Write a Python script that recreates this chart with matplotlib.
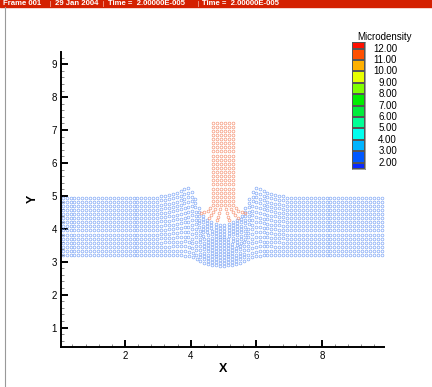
import numpy as np
import matplotlib.pyplot as plt
from matplotlib.patches import Rectangle
from matplotlib.lines import Line2D
from matplotlib.colors import ListedColormap, BoundaryNorm
from matplotlib.transforms import blended_transform_factory
from matplotlib.ticker import MultipleLocator

plt.rcParams['font.family'] = ['Liberation Sans', 'DejaVu Sans']

# target block: undeformed lattice
target_cols = [0.10, 0.22, 0.34, 0.46, 0.58, 0.70, 0.82, 0.94, 1.06, 1.18,
               1.30, 1.42, 1.54, 1.66, 1.78, 1.90, 2.02, 2.14, 2.26, 2.38,
               2.50, 2.62, 2.74, 2.86, 2.98, 3.10, 3.22, 3.34, 3.46, 3.58,
               3.70, 3.82, 3.94, 4.06, 4.18, 4.30, 4.42, 4.54, 4.66, 4.78,
               4.90, 5.02, 5.14, 5.26, 5.38, 5.50, 5.62, 5.74, 5.86, 5.98,
               6.10, 6.22, 6.34, 6.46, 6.58, 6.70, 6.82, 6.94, 7.06, 7.18,
               7.30, 7.42, 7.54, 7.66, 7.78, 7.90, 8.02, 8.14, 8.26, 8.38,
               8.50, 8.62, 8.74, 8.86, 8.98, 9.10, 9.22, 9.34, 9.46, 9.58,
               9.70, 9.82]
target_rows = [3.20, 3.325, 3.45, 3.575, 3.70, 3.825, 3.95, 4.075, 4.20,
               4.325, 4.45, 4.575, 4.70, 4.825, 4.95]

# deformed columns around the impact: top particle (x, y) and bottom particle y
zone_cols = [3.10, 3.22, 3.34, 3.46, 3.58, 3.70, 3.82, 3.94, 4.06, 4.18,
             4.30, 4.42, 4.54, 4.66, 4.78, 4.90, 5.02, 5.14, 5.26, 5.38,
             5.50, 5.62, 5.74, 5.86, 5.98, 6.10, 6.22, 6.34, 6.46, 6.58,
             6.70, 6.82]
zone_top_x = [3.10, 3.22, 3.34, 3.46, 3.58, 3.70, 3.81, 3.92, 4.03, 4.14,
              4.25, 4.37, 4.50, 4.63, 4.76, 4.89, 5.03, 5.16, 5.29, 5.42,
              5.55, 5.67, 5.78, 5.89, 6.00, 6.11, 6.22, 6.34, 6.46, 6.58,
              6.70, 6.82]
zone_top_y = [4.99, 5.01, 5.03, 5.06, 5.10, 5.15, 5.21, 5.25, 5.12, 4.92,
              4.62, 4.40, 4.28, 4.20, 4.15, 4.12, 4.12, 4.15, 4.20, 4.28,
              4.40, 4.62, 4.92, 5.12, 5.25, 5.21, 5.15, 5.10, 5.06, 5.03,
              5.01, 4.99]
zone_bot_y = [3.20, 3.20, 3.20, 3.20, 3.20, 3.19, 3.18, 3.16, 3.13, 3.08,
              3.02, 2.97, 2.93, 2.90, 2.89, 2.88, 2.88, 2.89, 2.90, 2.93,
              2.97, 3.02, 3.08, 3.13, 3.16, 3.18, 3.19, 3.20, 3.20, 3.20,
              3.20, 3.20]

# projectile column
proj_cols = [4.67, 4.80, 4.92, 5.05, 5.18, 5.30]
proj_rows = [7.22, 7.10, 6.97, 6.85, 6.72, 6.60, 6.47, 6.35, 6.22, 6.10,
             5.97, 5.85, 5.72, 5.60, 5.47, 5.35, 5.22, 5.10, 4.97, 4.85, 4.72]
splay_x = [[4.60, 4.52, 4.42, 4.32],
           [4.75, 4.69, 4.62, 4.55],
           [4.90, 4.87, 4.84, 4.81],
           [5.07, 5.10, 5.13, 5.16],
           [5.23, 5.29, 5.36, 5.43],
           [5.37, 5.45, 5.55, 5.65]]
splay_y = [[4.62, 4.55, 4.50, 4.47],
           [4.60, 4.50, 4.41, 4.34],
           [4.60, 4.48, 4.37, 4.27],
           [4.60, 4.48, 4.37, 4.27],
           [4.60, 4.50, 4.41, 4.34],
           [4.62, 4.55, 4.50, 4.47]]

# legend levels
levels = [2.00, 3.00, 4.00, 5.00, 6.00, 7.00, 8.00, 9.00, 10.00, 11.00, 12.00]
level_colors = ['#0a28ff', '#0058ff', '#00b4ff', '#00ffee', '#00ff96',
                '#00ee3c', '#00ee00', '#80ff00', '#e8ff00', '#ffb000',
                '#ff5000', '#ff1000']

# title bar pieces
header = ['Frame 001', '29 Jan 2004', 'Time =  2.00000E-005', 'Time =  2.00000E-005']
header_x = [3, 55, 108, 202]
header_sep = [50, 103, 198]

# build particle positions
tx, ty = [], []
rows = np.array(target_rows)
frac = (rows - rows[0]) / (rows[-1] - rows[0])
for c in target_cols:
    if c in zone_cols:
        j = zone_cols.index(c)
        xs = c + (zone_top_x[j] - c) * frac
        ys = zone_bot_y[j] + (zone_top_y[j] - zone_bot_y[j]) * frac
    else:
        xs = np.full(len(rows), c)
        ys = rows
    tx.extend(xs)
    ty.extend(ys)

px, py = [], []
for j, c in enumerate(proj_cols):
    px.extend([c] * len(proj_rows))
    py.extend(proj_rows)
    px.extend(splay_x[j])
    py.extend(splay_y[j])

W, H = 432, 387
fig = plt.figure(figsize=(W / 100, H / 100), dpi=100)

# title bar
fig.patches.append(Rectangle((0, 1 - 6.5 / H), 1, 6.5 / H, transform=fig.transFigure,
                             color='#d42000', zorder=0))
for s, x0 in zip(header, header_x):
    fig.text(x0 / W, 1 - 3.3 / H, s, color='white', fontsize=5.6,
             fontweight='bold', va='center', ha='left')
for x0 in header_sep:
    fig.lines.append(Line2D([x0 / W, x0 / W], [1 - 6 / H, 1 - 0.5 / H],
                            transform=fig.transFigure, color='#f0a090', lw=0.6))
fig.lines.append(Line2D([5.3 / W, 5.3 / W], [1 / H, 1 - 6.5 / H],
                        transform=fig.transFigure, color='#999999', lw=0.8))

ax = fig.add_axes([61 / W, 1 - 347 / H, 323.3 / W, 295.3 / H])
ax.plot(tx, ty, 'o', ms=2.0, mfc='none', mec='#79a2f5', mew=0.45)
ax.plot(px, py, 'o', ms=2.0, mfc='none', mec='#f59070', mew=0.45)

ax.set_xlim(0.05, 9.9)
ax.set_ylim(0.41, 9.38)
for s in ['top', 'right']:
    ax.spines[s].set_visible(False)
for s in ['left', 'bottom']:
    ax.spines[s].set_linewidth(1.4)
ax.set_xticks([2, 4, 6, 8])
ax.set_yticks([1, 2, 3, 4, 5, 6, 7, 8, 9])
ax.xaxis.set_minor_locator(MultipleLocator(0.4))
ax.yaxis.set_minor_locator(MultipleLocator(0.2))
ax.tick_params(which='major', direction='in', length=5, width=1.4,
               labelsize=7, pad=3)
ax.tick_params(which='minor', direction='in', length=2.5, width=0.6,
               color='#777777')
ax.set_xlabel('X', fontsize=9, fontweight='bold', labelpad=1)
ax.set_ylabel('Y', fontsize=9, fontweight='bold', labelpad=9)

# legend colour bar
edges = [1.45] + levels + [12.6]
cax = fig.add_axes([351.7 / W, 1 - 169 / H, 13.3 / W, 127.3 / H])
cmap = ListedColormap(level_colors)
norm = BoundaryNorm(edges, cmap.N)
centers = [(a + b) / 2 for a, b in zip(edges[:-1], edges[1:])]
cax.pcolormesh([0, 1], edges, np.array(centers).reshape(-1, 1), cmap=cmap,
               norm=norm, edgecolors='#555555', linewidth=0.3)
cax.set_ylim(edges[0], edges[-1])
cax.set_xlim(0, 1)
cax.set_xticks([])
cax.set_yticks([])
for s in cax.spines.values():
    s.set_linewidth(0.4)
    s.set_color('#555555')
tr = blended_transform_factory(fig.transFigure, cax.transData)
for v in levels:
    fig.text(397 / W, v, f'{v:.2f}', transform=tr, ha='right', va='center',
             fontsize=7)
fig.text(385 / W, 1 - 37.5 / H, 'Microdensity', ha='center', va='center',
         fontsize=7)

fig.savefig('out.png', dpi=100)
